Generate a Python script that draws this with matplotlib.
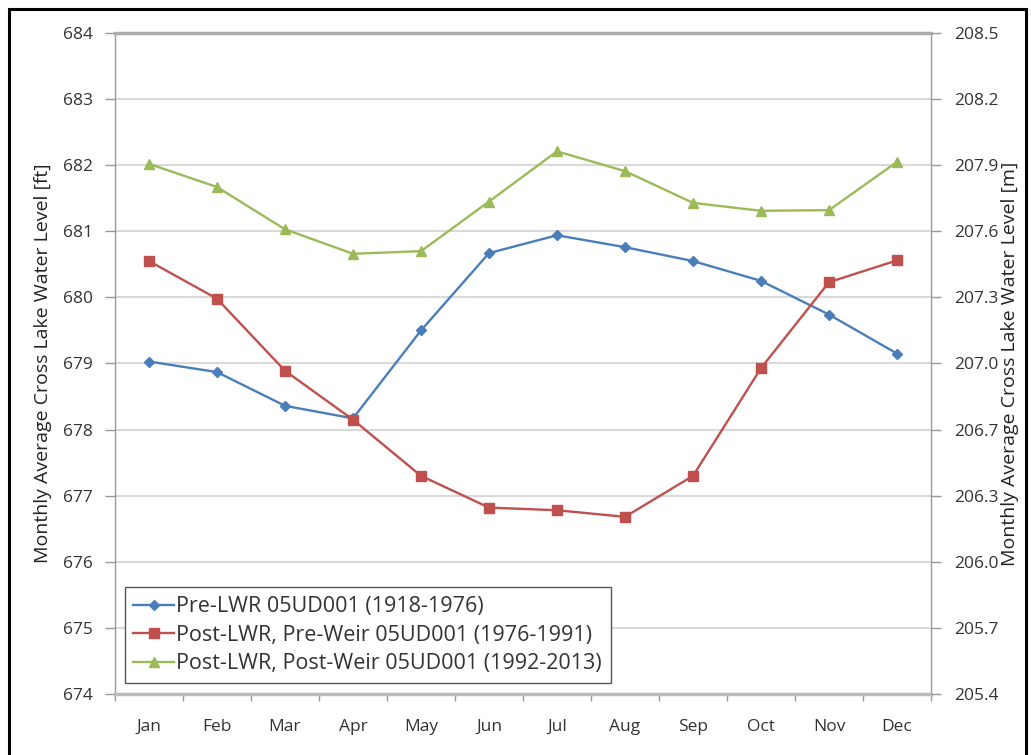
import matplotlib
matplotlib.use("Agg")
import matplotlib.pyplot as plt
from matplotlib.patches import Rectangle

plt.rcParams['font.family'] = ['Open Sans', 'DejaVu Sans']

months = ['Jan', 'Feb', 'Mar', 'Apr', 'May', 'Jun', 'Jul', 'Aug', 'Sep', 'Oct', 'Nov', 'Dec']
pre_lwr = [679.03, 678.87, 678.36, 678.17, 679.50, 680.67, 680.94, 680.76, 680.55, 680.25, 679.74, 679.15]
post_lwr_pre_weir = [680.55, 679.98, 678.89, 678.15, 677.30, 676.82, 676.78, 676.68, 677.30, 678.93, 680.23, 680.56]
post_lwr_post_weir = [682.02, 681.67, 681.03, 680.66, 680.70, 681.45, 682.21, 681.91, 681.43, 681.31, 681.32, 682.05]
ft_ticks = [674, 675, 676, 677, 678, 679, 680, 681, 682, 683, 684]
m_labels = ['205.4', '205.7', '206.0', '206.3', '206.7', '207.0', '207.3', '207.6', '207.9', '208.2', '208.5']

fig = plt.figure(figsize=(10.31, 7.55), dpi=100)
ax = fig.add_axes([115/1031, 1 - 694/755, 816/1031, 661/755])

x = list(range(len(months)))
ax.plot(x, pre_lwr, color='#4A7EBB', lw=1.7, marker='D', ms=5, label='Pre-LWR 05UD001 (1918-1976)')
ax.plot(x, post_lwr_pre_weir, color='#C0504D', lw=1.7, marker='s', ms=7, label='Post-LWR, Pre-Weir 05UD001 (1976-1991)')
ax.plot(x, post_lwr_post_weir, color='#9BBB59', lw=1.7, marker='^', ms=6.5, label='Post-LWR, Post-Weir 05UD001 (1992-2013)')

ax.set_xlim(-0.5, 11.5)
ax.set_ylim(674, 684)
ax.set_yticks(ft_ticks)
ax.set_xticks(x)
ax.set_xticklabels(months)
ax.set_xticks([i - 0.5 for i in range(13)], minor=True)
ax.tick_params(axis='x', which='major', length=0, pad=18, labelsize=12.5, colors='#333333')
ax.tick_params(axis='x', which='minor', length=5, color='#999999', width=1)
ax.tick_params(axis='y', length=7, color='#999999', width=1, labelsize=12.5, colors='#333333', pad=9)
ax.yaxis.grid(True, color='#d9d9d9', lw=1.5)
ax.set_axisbelow(True)
for side in ['left', 'right']:
    ax.spines[side].set_color('#999999')
    ax.spines[side].set_linewidth(1)
ax.spines['top'].set_color('#aaaaaa')
ax.spines['top'].set_linewidth(2.5)
ax.spines['bottom'].set_color('#bbbbbb')
ax.spines['bottom'].set_linewidth(2.5)
ax.set_ylabel('Monthly Average Cross Lake Water Level [ft]', fontsize=14, color='#222222', labelpad=8)

ax2 = ax.twinx()
ax2.set_ylim(674, 684)
ax2.set_yticks(ft_ticks)
ax2.set_yticklabels(m_labels)
ax2.tick_params(axis='y', length=7, color='#999999', width=1, labelsize=12.5, colors='#333333', pad=10)
for s in ax2.spines.values():
    s.set_visible(False)
ax2.set_ylabel('Monthly Average Cross Lake Water Level [m]', fontsize=14, color='#222222', labelpad=1)

leg = ax.legend(loc='lower left', bbox_to_anchor=(0.012, 0.017), fontsize=15.5,
                fancybox=False, edgecolor='#555555', framealpha=1, borderpad=0.4,
                handlelength=1.9, handletextpad=0.1, labelspacing=0.35, borderaxespad=0)
leg.get_frame().set_linewidth(1)
for t in leg.get_texts():
    t.set_color('#333333')

fig.patches.append(Rectangle((9/1031, -0.05), 1017/1031, 1.05 - 9/755, transform=fig.transFigure,
                             fill=False, edgecolor='black', lw=2.2))

fig.savefig('out.png', dpi=100)
